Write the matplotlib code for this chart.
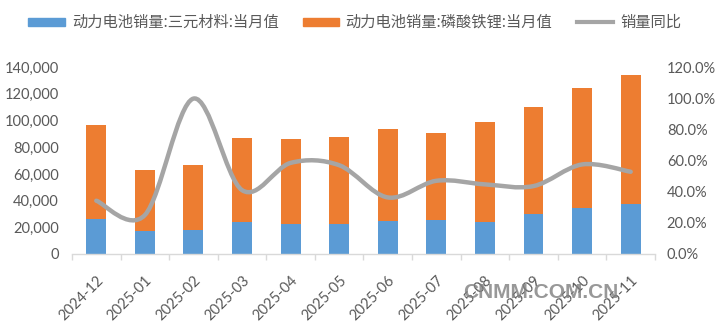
import matplotlib
matplotlib.use("Agg")
import matplotlib.pyplot as plt
from matplotlib.patches import Rectangle, PathPatch
from matplotlib.lines import Line2D
from matplotlib.path import Path
from matplotlib.ticker import FuncFormatter, MultipleLocator

months = ["2024-12", "2025-01", "2025-02", "2025-03", "2025-04", "2025-05",
          "2025-06", "2025-07", "2025-08", "2025-09", "2025-10", "2025-11"]
# 三元材料 / 磷酸铁锂 monthly sales
ternary = [25900, 17400, 17900, 24100, 22400, 22400, 24900, 25400, 24100, 29900, 34600, 37300]
lfp = [70400, 45300, 49000, 63000, 63900, 65100, 68900, 65400, 74600, 80500, 89500, 96800]
# 销量同比 (%)
yoy = [34.2, 25.0, 99.8, 41.0, 58.5, 57.0, 36.3, 47.0, 44.7, 43.6, 57.5, 52.8]

labels = ["动力电池销量:三元材料:当月值", "动力电池销量:磷酸铁锂:当月值", "销量同比"]

BLUE = "#5B9BD5"
ORANGE = "#ED7D31"
GRAY = "#A5A5A5"
TXT = "#595959"
AXC = "#D9D9D9"

plt.rcParams["font.family"] = ["Lato", "Noto Sans CJK SC", "DejaVu Sans"]

fig = plt.figure(figsize=(7.2, 3.26), dpi=100)
ax = fig.add_axes([0.1, 0.221, 0.8097, 0.573])

x = list(range(len(months)))
ax.bar(x, ternary, width=0.41, color=BLUE, zorder=2)
ax.bar(x, lfp, width=0.41, bottom=ternary, color=ORANGE, zorder=2)

ax.set_xlim(-0.5, len(months) - 0.5)
ax.set_ylim(0, 140000)
ax.yaxis.set_major_locator(MultipleLocator(20000))
ax.yaxis.set_major_formatter(FuncFormatter(lambda v, p: f"{int(v):,}"))
ax.tick_params(axis="y", length=0, pad=9.5, labelsize=10.5, labelcolor=TXT)

ax.set_xticks(x)
ax.set_xticklabels(months)
ax.set_xticks([i - 0.5 for i in range(len(months) + 1)], minor=True)
ax.tick_params(axis="x", which="major", length=0, pad=14, labelsize=10.5, labelcolor=TXT)
ax.tick_params(axis="x", which="minor", length=4, width=1, color=AXC, direction="out")
for lab in ax.get_xticklabels():
    lab.set_rotation(45)
    lab.set_ha("right")
    lab.set_va("top")
    lab.set_rotation_mode("anchor")

for s in ["top", "left", "right"]:
    ax.spines[s].set_visible(False)
ax.spines["bottom"].set_color(AXC)
ax.spines["bottom"].set_linewidth(1)

# year-on-year line on the secondary axis, smoothed with bezier segments
ax2 = ax.twinx()
ax2.set_ylim(0, 120)
ax2.yaxis.set_major_locator(MultipleLocator(20))
ax2.yaxis.set_major_formatter(FuncFormatter(lambda v, p: f"{v:.1f}%"))
ax2.tick_params(axis="y", length=0, pad=8.5, labelsize=10.5, labelcolor=TXT)
for s in ax2.spines.values():
    s.set_visible(False)

pts = list(zip(x, yoy))
verts = [pts[0]]
codes = [Path.MOVETO]
n = len(pts)
for i in range(n - 1):
    p0 = pts[i - 1] if i > 0 else pts[i]
    p1 = pts[i]
    p2 = pts[i + 1]
    p3 = pts[i + 2] if i + 2 < n else pts[i + 1]
    c1 = (p1[0] + (p2[0] - p0[0]) / 6, p1[1] + (p2[1] - p0[1]) / 6)
    c2 = (p2[0] - (p3[0] - p1[0]) / 6, p2[1] - (p3[1] - p1[1]) / 6)
    verts += [c1, c2, p2]
    codes += [Path.CURVE4] * 3
ax2.add_patch(PathPatch(Path(verts, codes), facecolor="none", edgecolor=GRAY,
                        linewidth=3.2, capstyle="round", zorder=3))

# legend row
fs = 11
cjk = ["Noto Sans CJK SC", "DejaVu Sans"]
ly = 1 - 22 / 326
fig.patches.append(Rectangle((28 / 720, ly - 4 / 326), 37 / 720, 8 / 326,
                             transform=fig.transFigure, color=BLUE))
fig.text(72 / 720, ly, labels[0], fontsize=fs, color=TXT, va="center", family=cjk)
fig.patches.append(Rectangle((303 / 720, ly - 4 / 326), 36 / 720, 8 / 326,
                             transform=fig.transFigure, color=ORANGE))
fig.text(345 / 720, ly, labels[1], fontsize=fs, color=TXT, va="center", family=cjk)
fig.lines.append(Line2D([577 / 720, 613 / 720], [ly, ly], transform=fig.transFigure,
                        color=GRAY, linewidth=3))
fig.text(620 / 720, ly, labels[2], fontsize=fs, color=TXT, va="center", family=cjk)

fig.text(541 / 720, 1 - 292 / 326, "CNMM.COM.CN", fontsize=15, color="#7f7f7f",
         alpha=0.8, ha="center", va="center", family="Liberation Sans", weight="bold")

fig.savefig("out.png", dpi=100)
